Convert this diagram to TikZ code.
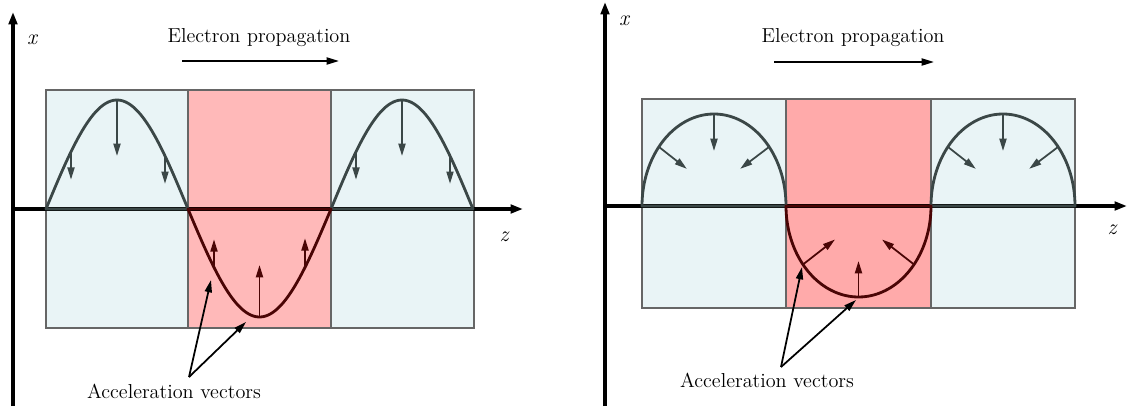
\documentclass[tikz,border=0pt]{standalone}
\usetikzlibrary{arrows.meta}

\definecolor{cellblue}{HTML}{E9F4F6}
\definecolor{cellred}{HTML}{FFB9B9}
\definecolor{cellreddark}{HTML}{FFAAAA}
\definecolor{wavegray}{HTML}{3B4747}
\definecolor{wavered}{HTML}{4A0505}

\tikzset{
    axis/.style={line width=1.9pt,-{Triangle[length=7pt,width=4.8pt]}},
    cell/.style={draw=black!60,line width=0.6pt},
    wave/.style={line width=1.6pt,line join=round},
    accel/.style={line width=1pt,-{Triangle[length=7pt,width=4pt]}},
    pointer/.style={line width=1pt,-{Triangle[length=7pt,width=4pt]}},
    lbl/.style={font=\fontsize{11.5}{14}\selectfont,inner sep=0pt,anchor=base},
    var/.style={font=\fontsize{12.5}{15}\selectfont\itshape,inner sep=0pt}
}

\begin{document}
\begin{tikzpicture}[x=0.02cm,y=-0.02cm]
    \useasboundingbox (0,0) rectangle (1129,406);

    % ---- left: sine trajectory ----
    \fill[cellblue] (46,90) rectangle (188,328) (331,90) rectangle (474,328);
    \fill[cellred] (188,90) rectangle (331,328);
    \draw[cell] (46,90) rectangle (188,328) (188,90) rectangle (331,328)
        (331,90) rectangle (474,328);

    \draw[axis] (13,406) -- (13,12);
    \draw[axis] (13,209) -- (523,209);
    \node[var] (xl) at (32,40) {x};
    \node[var] (zl) at (504,237) {z};

    \foreach \a in {46,331} {
        \draw[wave,wavegray] plot[domain=0:180,samples=60] ({\a+\x/180*142},{209-109*sin(\x)}) -- cycle;
        \draw[accel,wavegray] ({\a+71},100) -- +(0,56);
        \draw[accel,wavegray] ({\a+25},{209-109*sin(31.7)}) -- +(0,28);
        \draw[accel,wavegray] ({\a+119},{209-109*sin(150.8)}) -- +(0,28);
    }
    \draw[wave,wavered] plot[domain=0:180,samples=60] ({188+\x/180*143},{209+108*sin(\x)}) -- cycle;
    \draw[accel,wavered] (259.5,317) -- +(0,-52);
    \draw[accel,wavered] (214,{209+108*sin(32.7)}) -- +(0,-28);
    \draw[accel,wavered] (305,{209+108*sin(148)}) -- +(0,-28);

    \node[lbl] (propL) at (259,42) {Electron propagation};
    \coordinate (propLa) at (182,61);
    \coordinate (propLb) at (339,61);
    \draw[pointer] (propLa) -- (propLb);

    \node[lbl] (accL) at (174,398) {Acceleration vectors};
    \coordinate (accLo) at (189,377);
    \coordinate (accLa) at (211,280);
    \coordinate (accLb) at (246,322);
    \draw[pointer] (accLo) -- (accLa);
    \draw[pointer] (accLo) -- (accLb);

    % ---- right: elliptic trajectory ----
    \fill[cellblue] (642,99) rectangle (786,308) (931,99) rectangle (1075,308);
    \fill[cellreddark] (786,99) rectangle (931,308);
    \draw[cell] (642,99) rectangle (786,308) (786,99) rectangle (931,308)
        (931,99) rectangle (1075,308);

    \draw[axis] (605,406) -- (605,2);
    \draw[axis] (605,206) -- (1127,206);
    \node[var] (xr) at (624,21) {x};
    \node[var] (zr) at (1112,230) {z};

    \foreach \c in {714,1003} {
        \draw[wave,wavegray] plot[domain=180:0,samples=80] ({\c+72*cos(\x)},{206-92*sin(\x)}) -- cycle;
        \draw[accel,wavegray] (\c,114) -- +(0,37);
        \draw[accel,wavegray] ({\c+72*cos(140)},{206-92*sin(140)}) -- +(28,22);
        \draw[accel,wavegray] ({\c+72*cos(40)},{206-92*sin(40)}) -- +(-29,22);
    }
    \draw[wave,wavered] plot[domain=180:360,samples=80] ({858.5+72.5*cos(\x)},{206-91*sin(\x)}) -- cycle;
    \draw[accel,wavered] (858.5,297) -- +(0,-36);
    \draw[accel,wavered] ({858.5+72.5*cos(220)},{206-91*sin(220)}) -- +(32,-25);
    \draw[accel,wavered] ({858.5+72.5*cos(320)},{206-91*sin(320)}) -- +(-32,-25);

    \node[lbl] (propR) at (853,42) {Electron propagation};
    \coordinate (propRa) at (774,62);
    \coordinate (propRb) at (934,62);
    \draw[pointer] (propRa) -- (propRb);

    \node[lbl] (accR) at (767,387) {Acceleration vectors};
    \coordinate (accRo) at (781,367);
    \coordinate (accRa) at (802,267);
    \coordinate (accRb) at (856,300);
    \draw[pointer] (accRo) -- (accRa);
    \draw[pointer] (accRo) -- (accRb);
\end{tikzpicture}
\end{document}
